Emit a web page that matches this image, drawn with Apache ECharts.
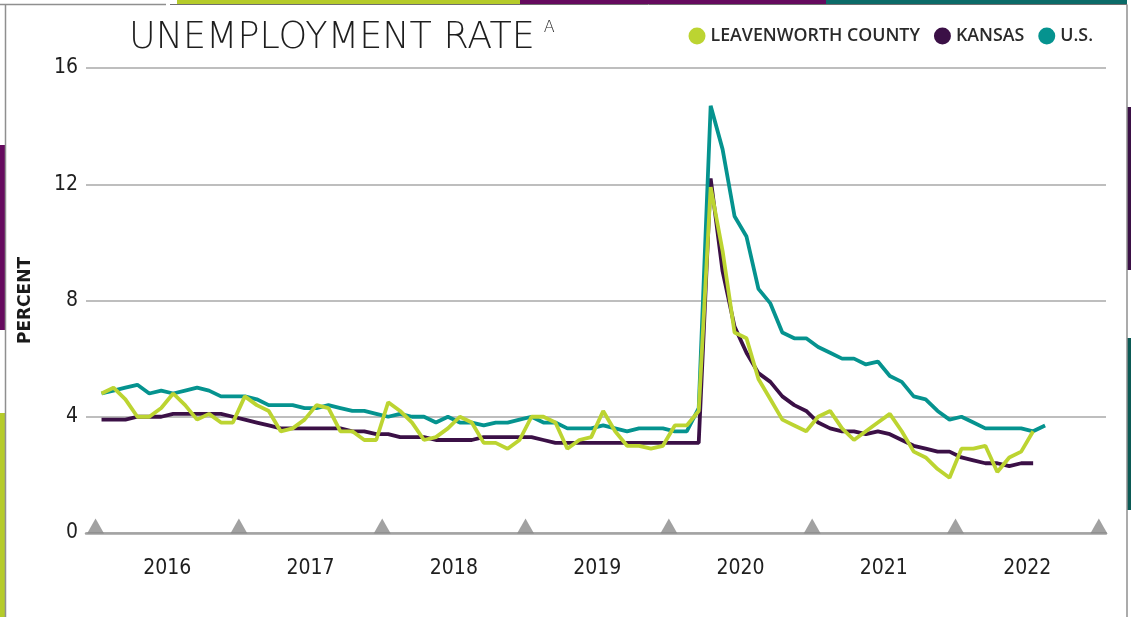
<!DOCTYPE html>
<html>
<head>
<meta charset="utf-8">
<script src="https://cdn.jsdelivr.net/npm/echarts@6/dist/echarts.min.js"></script>
<style>
html,body{margin:0;padding:0;background:#fff;}
#chart{width:1131px;height:617px;}
</style>
</head>
<body>
<div id="chart"></div>
<script>
// ---- data (monthly, starting January 2016) ----
const startYear = 2016;
const years = ['2016','2017','2018','2019','2020','2021','2022'];
const yTicks = [0, 4, 8, 12, 16];
const seriesNames = ['LEAVENWORTH COUNTY', 'KANSAS', 'U.S.'];

const leavenworth = [
  4.8, 5.0, 4.6, 4.0, 4.0, 4.3, 4.8, 4.4, 3.9, 4.1, 3.8, 3.8,
  4.7, 4.4, 4.2, 3.5, 3.6, 3.9, 4.4, 4.3, 3.5, 3.5, 3.2, 3.2,
  4.5, 4.2, 3.8, 3.2, 3.3, 3.6, 4.0, 3.8, 3.1, 3.1, 2.9, 3.2,
  4.0, 4.0, 3.8, 2.9, 3.2, 3.3, 4.2, 3.5, 3.0, 3.0, 2.9, 3.0,
  3.7, 3.7, 4.2, 11.9, 9.7, 6.9, 6.7, 5.3, 4.6, 3.9, 3.7, 3.5,
  4.0, 4.2, 3.6, 3.2, 3.5, 3.8, 4.1, 3.5, 2.8, 2.6, 2.2, 1.9,
  2.9, 2.9, 3.0, 2.1, 2.6, 2.8, 3.5
];
const kansas = [
  3.9, 3.9, 3.9, 4.0, 4.0, 4.0, 4.1, 4.1, 4.1, 4.1, 4.1, 4.0,
  3.9, 3.8, 3.7, 3.6, 3.6, 3.6, 3.6, 3.6, 3.6, 3.5, 3.5, 3.4,
  3.4, 3.3, 3.3, 3.3, 3.2, 3.2, 3.2, 3.2, 3.3, 3.3, 3.3, 3.3,
  3.3, 3.2, 3.1, 3.1, 3.1, 3.1, 3.1, 3.1, 3.1, 3.1, 3.1, 3.1,
  3.1, 3.1, 3.1, 12.2, 9.0, 7.1, 6.2, 5.5, 5.2, 4.7, 4.4, 4.2,
  3.8, 3.6, 3.5, 3.5, 3.4, 3.5, 3.4, 3.2, 3.0, 2.9, 2.8, 2.8,
  2.6, 2.5, 2.4, 2.4, 2.3, 2.4, 2.4
];
const us = [
  4.8, 4.9, 5.0, 5.1, 4.8, 4.9, 4.8, 4.9, 5.0, 4.9, 4.7, 4.7,
  4.7, 4.6, 4.4, 4.4, 4.4, 4.3, 4.3, 4.4, 4.3, 4.2, 4.2, 4.1,
  4.0, 4.1, 4.0, 4.0, 3.8, 4.0, 3.8, 3.8, 3.7, 3.8, 3.8, 3.9,
  4.0, 3.8, 3.8, 3.6, 3.6, 3.6, 3.7, 3.6, 3.5, 3.6, 3.6, 3.6,
  3.5, 3.5, 4.3, 14.7, 13.2, 10.9, 10.2, 8.4, 7.9, 6.9, 6.7, 6.7,
  6.4, 6.2, 6.0, 6.0, 5.8, 5.9, 5.4, 5.2, 4.7, 4.6, 4.2, 3.9,
  4.0, 3.8, 3.6, 3.6, 3.6, 3.6, 3.5, 3.7
];

// ---- build library structures ----
const MONTHS = 12;
const toPoints = arr => arr.map((v, i) => [i + 0.5, v]);   // month centre on a month-count axis
const yearCenters = years.map((y, i) => i * MONTHS + MONTHS / 2);
const yearBounds = years.map((y, i) => i * MONTHS).concat([years.length * MONTHS]);
const centerToYear = {};
yearCenters.forEach((c, i) => { centerToYear[c] = years[i]; });

const colors = { green: '#bcd431', purple: '#3b1046', teal: '#05938f' };
const numFont = "'Liberation Sans Narrow','DejaVu Sans Condensed','Roboto',sans-serif";

const chart = echarts.init(document.getElementById('chart'), null, { renderer: 'canvas' });
chart.setOption({
  backgroundColor: '#ffffff',
  animation: false,
  title: {
    left: 124,
    top: 15,
    text: '{t|UNEMPLOYMENT RATE}{s|A}',
    textStyle: {
      rich: {
        t: { fontFamily: 'DejaVu Sans', fontWeight: 200, fontSize: 36.5, color: '#1e1e1e' },
        s: { fontFamily: 'DejaVu Sans', fontWeight: 200, fontSize: 16, color: '#1e1e1e', verticalAlign: 'top', padding: [0, 0, 10, 9] }
      }
    }
  },
  legend: {
    right: 33,
    top: 22,
    icon: 'circle',
    itemWidth: 17,
    itemHeight: 17,
    itemGap: 14,
    data: seriesNames,
    textStyle: { fontFamily: "'Open Sans',sans-serif", fontWeight: 600, fontSize: 17.8, color: '#2a2a2a' }
  },
  grid: { left: 86, right: 25, top: 68, bottom: 84, containLabel: false },
  xAxis: {
    type: 'value',
    min: -0.8,
    max: 84.6,
    splitLine: { show: false },
    axisTick: { show: false },
    axisLine: { show: true, lineStyle: { color: '#a3a3a3', width: 2.5 } },
    axisLabel: {
      show: true,
      customValues: yearCenters,
      formatter: v => centerToYear[v] || '',
      margin: 25,
      fontFamily: numFont,
      fontSize: 21,
      color: '#1e1e1e'
    }
  },
  yAxis: {
    type: 'value',
    min: yTicks[0],
    max: yTicks[yTicks.length - 1],
    interval: 4,
    name: 'PERCENT',
    nameLocation: 'middle',
    nameRotate: 90,
    nameGap: 52,
    nameTextStyle: { fontFamily: 'DejaVu Sans', fontWeight: 'bold', fontSize: 17, color: '#1a1a1a' },
    axisLine: { show: false },
    axisTick: { show: false },
    splitLine: { show: true, lineStyle: { color: '#a9a9a9', width: 1.5 } },
    axisLabel: { margin: 8, fontFamily: numFont, fontSize: 21, color: '#1e1e1e' }
  },
  series: [
    {
      name: seriesNames[0], type: 'line', data: toPoints(leavenworth), showSymbol: false, z: 5,
      itemStyle: { color: colors.green }, lineStyle: { color: colors.green, width: 3.8 }
    },
    {
      name: seriesNames[1], type: 'line', data: toPoints(kansas), showSymbol: false, z: 3,
      itemStyle: { color: colors.purple }, lineStyle: { color: colors.purple, width: 3.8 }
    },
    {
      name: seriesNames[2], type: 'line', data: toPoints(us), showSymbol: false, z: 4,
      itemStyle: { color: colors.teal }, lineStyle: { color: colors.teal, width: 3.8 }
    },
    {
      name: 'yearMarks', type: 'scatter', data: yearBounds.map(b => [b, 0]),
      symbol: 'triangle', symbolSize: [17, 15], symbolOffset: [0, -7],
      itemStyle: { color: '#898989' }, silent: true, z: 2
    }
  ],
  graphic: [
    // decorative frame: coloured strips behind a white card
    { type: 'rect', shape: { x: 177, y: 0, width: 343, height: 4 }, style: { fill: '#b5cb2a' }, silent: true },
    { type: 'rect', shape: { x: 520, y: 0, width: 306, height: 4 }, style: { fill: '#650a5e' }, silent: true },
    { type: 'rect', shape: { x: 826, y: 0, width: 301, height: 4 }, style: { fill: '#0b6b68' }, silent: true },
    { type: 'rect', shape: { x: 0, y: 145, width: 5, height: 185 }, style: { fill: '#650a5e' }, silent: true },
    { type: 'rect', shape: { x: 0, y: 413, width: 5, height: 204 }, style: { fill: '#b5cb2a' }, silent: true },
    { type: 'rect', shape: { x: 1127, y: 107, width: 4, height: 163 }, style: { fill: '#3b1046' }, silent: true },
    { type: 'rect', shape: { x: 1127, y: 338, width: 4, height: 172 }, style: { fill: '#0b5a55' }, silent: true },
    { type: 'polyline', shape: { points: [[0, 4.5], [166, 4.5]] }, style: { stroke: '#8f8f8f', lineWidth: 1.5 }, silent: true },
    { type: 'polyline', shape: { points: [[170, 4.5], [1127, 4.5]] }, style: { stroke: '#6f6f6f', lineWidth: 1 }, silent: true },
    { type: 'polyline', shape: { points: [[5.5, 4.5], [5.5, 617]] }, style: { stroke: '#8f8f8f', lineWidth: 1.5 }, silent: true },
    { type: 'polyline', shape: { points: [[1127, 4.5], [1127, 617]] }, style: { stroke: '#8f8f8f', lineWidth: 1.5 }, silent: true }
  ]
});
</script>
</body>
</html>
